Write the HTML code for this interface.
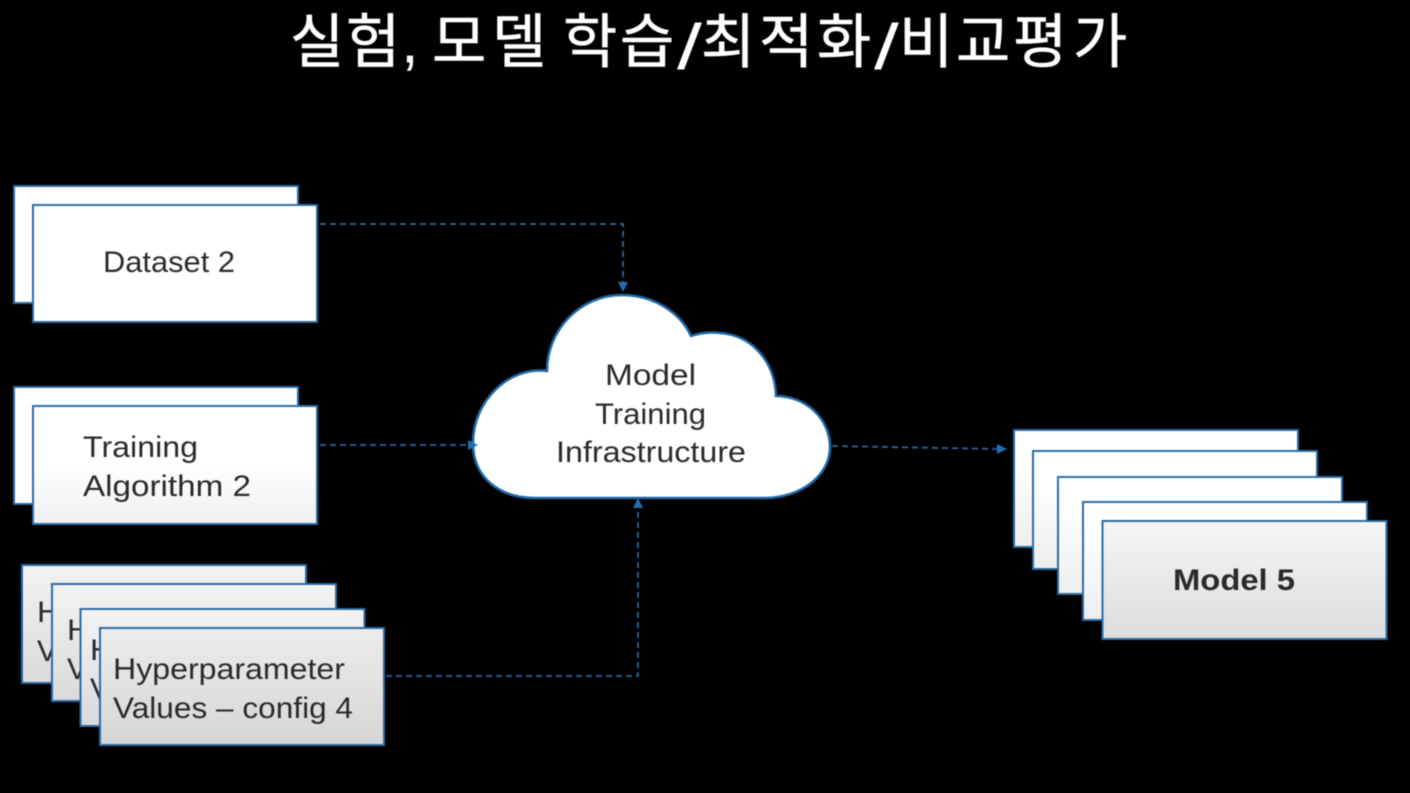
<!DOCTYPE html>
<html lang="ko"><head><meta charset="utf-8"><title>실험, 모델 학습/최적화/비교평가</title>
<style>html,body{margin:0;padding:0;background:#000;width:1410px;height:793px;overflow:hidden}svg{display:block;filter:blur(0.4px)}
text{font-family:"Liberation Sans","Noto Sans CJK KR",sans-serif;font-size:30px;fill:#2a2a2a}
.t{font-size:59px;fill:#fff;stroke:#fff;stroke-width:0.6px}
.p{font-size:64px;fill:#fff}</style></head>
<body>
<svg width="1410" height="793" viewBox="0 0 1410 793" xmlns="http://www.w3.org/2000/svg">
<defs>
<linearGradient id="t" x1="0" y1="0" x2="0" y2="1"><stop offset="0.5" stop-color="#fff"/><stop offset="1" stop-color="#efefef"/></linearGradient>
<linearGradient id="h" x1="0" y1="0" x2="0" y2="1"><stop offset="0" stop-color="#f3f3f3"/><stop offset="1" stop-color="#dadada"/></linearGradient>
<linearGradient id="hf" x1="0" y1="0" x2="0" y2="1"><stop offset="0" stop-color="#ececec"/><stop offset="1" stop-color="#d6d6d6"/></linearGradient>
<linearGradient id="m" x1="0" y1="0" x2="0" y2="1"><stop offset="0.25" stop-color="#fff"/><stop offset="1" stop-color="#eeeeee"/></linearGradient>
<linearGradient id="m5" x1="0" y1="0" x2="0" y2="1"><stop offset="0" stop-color="#f6f6f6"/><stop offset="1" stop-color="#dcdcdc"/></linearGradient>
</defs>
<rect width="1410" height="793" fill="#000"/>
<text class="t" y="62.500" x="290 346">실험</text>
<text class="p" y="62.500" x="401">,</text>
<text class="t" y="62.500" x="432 492">모델</text>
<text class="t" y="62.500" x="563 620">학습</text>
<text class="p" transform="translate(677,69) scale(1.4,1)">/</text>
<text class="t" y="62.500" x="701 759 817">최적화</text>
<text class="p" transform="translate(874,69) scale(1.4,1)">/</text>
<text class="t" y="62.500" x="899 956 1013 1073">비교평가</text>

<g stroke="#2b6ca3" stroke-width="2">
<rect x="14" y="186" width="284" height="117" fill="#fff"/>
<rect x="33" y="205" width="284" height="117" fill="#fff"/>
<rect x="14" y="387" width="284" height="117" fill="#fff"/>
<rect x="33" y="406" width="284" height="118" fill="url(#t)"/>
</g>
<text x="103" y="272" textLength="132" lengthAdjust="spacingAndGlyphs">Dataset 2</text>
<text x="83" y="457" textLength="115" lengthAdjust="spacingAndGlyphs">Training</text>
<text x="83" y="496" textLength="168" lengthAdjust="spacingAndGlyphs">Algorithm 2</text>

<rect x="22" y="565" width="284" height="118" fill="url(#h)" stroke="#2b6ca3" stroke-width="2"/>
<text x="37" y="622" textLength="232" lengthAdjust="spacingAndGlyphs">Hyperparameter</text>
<text x="37" y="661" textLength="232" lengthAdjust="spacingAndGlyphs">Values – config 1</text>
<rect x="52" y="584" width="284" height="117" fill="url(#h)" stroke="#2b6ca3" stroke-width="2"/>
<text x="67" y="640" textLength="232" lengthAdjust="spacingAndGlyphs">Hyperparameter</text>
<text x="67" y="679" textLength="232" lengthAdjust="spacingAndGlyphs">Values – config 2</text>
<rect x="80.500" y="609" width="284" height="117" fill="url(#h)" stroke="#2b6ca3" stroke-width="2"/>
<text x="90" y="660" textLength="232" lengthAdjust="spacingAndGlyphs">Hyperparameter</text>
<text x="90" y="699" textLength="232" lengthAdjust="spacingAndGlyphs">Values – config 3</text>
<rect x="100" y="628" width="284" height="117" fill="url(#hf)" stroke="#2b6ca3" stroke-width="2"/>
<text x="113" y="679" textLength="232" lengthAdjust="spacingAndGlyphs">Hyperparameter</text>
<text x="113" y="718" textLength="240" lengthAdjust="spacingAndGlyphs">Values – config 4</text>

<g fill="none" stroke="#2f659f" stroke-width="1.800" stroke-dasharray="6 4">
<path d="M320 224H623V283"/>
<path d="M320 445H470"/>
<path d="M386 676H638V507"/>
<path d="M832 446L998 449"/>
</g>
<path d="M547 371C547 330 580 295 622 295C653 295 680 312 691 336C700 333 711 332 720 333C752 335 775 362 776 396C805 396 830 418 830 447C830 476 800 498 765 498L535 498C500 498 473 478 473 443C473 400 510 366 547 371Z" fill="#fff" stroke="#1f6aa8" stroke-width="2.500"/>
<g fill="#1f6fb5">
<path d="M618 282H628L623 292Z"/>
<path d="M468 440L478 445L468 450Z"/>
<path d="M633 508L638 498L643 508Z"/>
<path d="M997 444L1007 449L997 454Z"/>
</g>
<text x="605" y="385" textLength="91" lengthAdjust="spacingAndGlyphs">Model</text>
<text x="595" y="424" textLength="111" lengthAdjust="spacingAndGlyphs">Training</text>
<text x="556" y="462" textLength="190" lengthAdjust="spacingAndGlyphs">Infrastructure</text>

<g stroke="#2b6ca3" stroke-width="2">
<rect x="1014" y="430" width="284" height="117" fill="url(#m)"/>
<rect x="1033" y="451" width="284" height="118" fill="url(#m)"/>
<rect x="1058" y="477" width="284" height="117" fill="url(#m)"/>
<rect x="1083" y="502" width="284" height="118" fill="url(#m)"/>
<rect x="1102.500" y="521" width="284" height="118" fill="url(#m5)"/>
</g>
<text x="1173" y="590" textLength="122" lengthAdjust="spacingAndGlyphs" style="font-weight:bold">Model 5</text>
</svg>
</body></html>
